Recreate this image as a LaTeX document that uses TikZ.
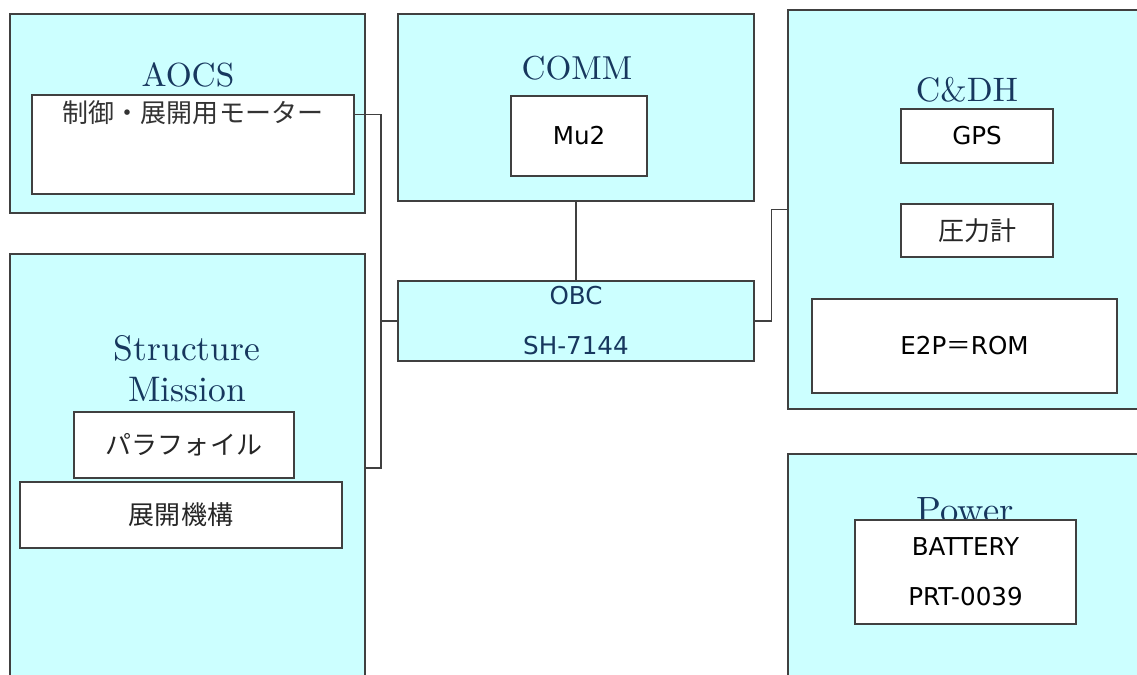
\documentclass[tikz,border=0pt]{standalone}
\usepackage{fontspec}
\usetikzlibrary{positioning}
\newfontfamily\jpfont{Noto Sans CJK JP}
\newfontfamily\vfont{DejaVu Sans}
\newfontfamily\ttlfont{lmroman10-regular.otf}
\definecolor{FillSub}{RGB}{204,255,255}
\definecolor{TitleInk}{RGB}{23,55,94}
\definecolor{EdgeInk}{RGB}{64,64,64}

\begin{document}
\begin{tikzpicture}[
            x=0.02cm, y=-0.02cm,
            sub/.style={draw=EdgeInk, line width=0.8pt, fill=FillSub, inner sep=0pt},
            part/.style={draw=EdgeInk, line width=0.8pt, fill=white, inner sep=0pt, align=center, font=\vfont\fontsize{14}{17}\selectfont},
            jpart/.style={part, font=\jpfont\fontsize{14.8}{17}\selectfont, text=black!85},
            ttl/.style={text=TitleInk, font=\ttlfont\fontsize{#1}{23.3}\selectfont, align=center},
            ttl/.default=19,
            wire/.style={draw=EdgeInk, line width=0.8pt}
        ]
            \useasboundingbox (0,0) rectangle (1137,675);
            \clip (0,0) rectangle (1137,675);
            % subsystem boxes
            \node[sub, minimum width=7.1cm,  minimum height=3.98cm] (aocs)   at (187.5,113.5) {};
            \node[sub, minimum width=7.1cm,  minimum height=8.56cm] (struct) at (187.5,468)   {};
            \node[sub, minimum width=7.12cm, minimum height=3.74cm] (comm)   at (576,107.5)   {};
            \node[sub, minimum width=7.12cm, minimum height=1.6cm, text=TitleInk, align=center,
                  font=\vfont\fontsize{14}{17}\selectfont] (obc) at (576,321) {OBC\\[11.5pt]SH-7144};
            \node[sub, minimum width=7.44cm, minimum height=7.98cm] (cdh)    at (974,209.5)   {};
            \node[sub, minimum width=7.44cm, minimum height=4.92cm] (power)  at (974,577)     {};
            % titles
            \node[ttl, anchor=base]       (aocsT)   at (188,87)  {AOCS};
            \node[ttl=20.2]               (structT) at (187,369) {Structure\\Mission};
            \node[ttl=18.9, anchor=base]  (commT)   at (577,80)  {COMM};
            \node[ttl=19.3, anchor=base]  (cdhT)    at (967,102) {C\&DH};
            \node[ttl=20.8, anchor=base]  (powerT)  at (965,523) {Power};
            % parts
            \node[part, minimum width=6.44cm, minimum height=1.98cm,
                  label={[anchor=north, font=\jpfont\fontsize{14.8}{17}\selectfont, text=black!80]north:制御・展開用モーター}] (motor) at (193,144.5) {};
            \node[jpart, minimum width=4.4cm,  minimum height=1.32cm] (para)   at (184,445) {パラフォイル};
            \node[jpart, minimum width=6.44cm, minimum height=1.32cm] (tenkai) at (181,515) {展開機構};
            \node[part,  minimum width=2.72cm, minimum height=1.6cm]  (mu)     at (579,136) {Mu2};
            \node[part,  minimum width=3.04cm, minimum height=1.08cm] (gps)    at (977,136) {GPS};
            \node[jpart, minimum width=3.04cm, minimum height=1.06cm] (atsu)   at (977,230.5) {圧力計};
            \node[part,  minimum width=6.1cm,  minimum height=1.88cm] (eep)    at (964.5,346) {E2P{\jpfont ＝}ROM};
            \node[part,  minimum width=4.42cm, minimum height=2.08cm] (bat)    at (965.5,572) {BATTERY\\[11.5pt]PRT-0039};
            % bus lines
            \coordinate (bus) at (381,321);
            \draw[wire] ([yshift=-0.4cm]motor.north east) -| (bus) |- (struct.east);
            \draw[wire] (bus) -- (obc.west);
            \draw[wire] (comm.south) -- (obc.north);
            \draw[wire] (obc.east) -- ++(17,0) |- (cdh.west);
        \end{tikzpicture}
\end{document}
